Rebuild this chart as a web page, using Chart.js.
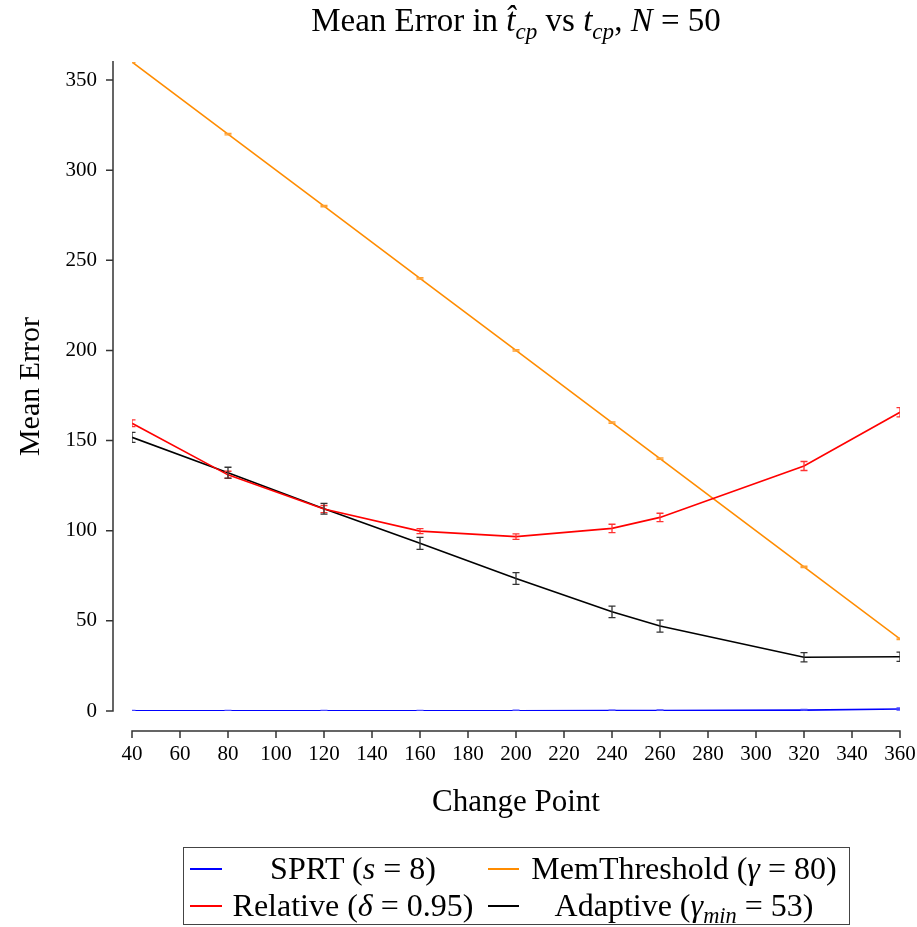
<!DOCTYPE html>
<html>
<head>
<meta charset="utf-8">
<script src="https://cdn.jsdelivr.net/npm/chart.js@4.4.1/dist/chart.umd.min.js"></script>
<style>
  html, body { margin: 0; padding: 0; background: #fff; }
  #wrap { position: relative; width: 917px; height: 927px; font-family: "Liberation Serif", "DejaVu Serif", serif; color: #000; }
  #chart { position: absolute; left: 0; top: 0; }
  #title { position: absolute; left: 216px; width: 600px; top: 1px; text-align: center; font-size: 33px; line-height: 38px; white-space: nowrap; }
  #title sub, #legend sub { font-size: 0.7em; line-height: 0; }
  .eq { margin: 0 0.25em; }
  #legend { position: absolute; left: 183px; top: 847px; width: 665px; height: 76px; border: 1px solid #444; font-size: 32px; }
  .row { display: flex; height: 37px; align-items: center; }
  .row:first-child { margin-top: 2px; }
  .cell { display: flex; align-items: center; }
  .c1 { width: 300px; }
  .c2 { width: 365px; }
  .sw { display: inline-block; width: 32px; height: 2px; margin-left: 6px; }
  .c2 .sw { margin-left: 4px; width: 31px; }
  .tx { flex: 1; text-align: center; white-space: nowrap; }
</style>
</head>
<body>
<div id="wrap">
  <canvas id="chart" width="917" height="927"></canvas>
  <div id="title">Mean Error in <i>t&#770;</i><sub><i>cp</i></sub> vs <i>t</i><sub><i>cp</i></sub>, <i>N</i><span class="eq">=</span>50</div>
  <div id="legend">
    <div class="row">
      <div class="cell c1"><span class="sw" style="background:#0000ff"></span><span class="tx">SPRT (<i>s</i><span class="eq">=</span>8)</span></div>
      <div class="cell c2"><span class="sw" style="background:#ff8c00"></span><span class="tx">MemThreshold (<i>γ</i><span class="eq">=</span>80)</span></div>
    </div>
    <div class="row">
      <div class="cell c1"><span class="sw" style="background:#ff0000"></span><span class="tx">Relative (<i>δ</i><span class="eq">=</span>0.95)</span></div>
      <div class="cell c2"><span class="sw" style="background:#000000"></span><span class="tx">Adaptive (<i>γ</i><sub><i>min</i></sub><span class="eq">=</span>53)</span></div>
    </div>
  </div>
</div>
<script>
const changePoints = [40, 80, 120, 160, 200, 240, 260, 320, 360];

const sprtMean = [0.05, 0.05, 0.05, 0.1, 0.15, 0.2, 0.25, 0.5, 1.1];
const sprtErr = [0.3, 0.3, 0.3, 0.3, 0.3, 0.3, 0.3, 0.4, 0.6];

const memMean = [360, 320, 280, 240, 200, 160, 140, 80, 40];
const memErr = [0.4, 0.4, 0.4, 0.4, 0.4, 0.4, 0.4, 0.4, 0.4];

const relMean = [159.6, 131, 112, 99.8, 96.7, 101.3, 107.4, 135.9, 165.7];
const relErr = [1.9, 2.0, 2.0, 1.4, 1.5, 2.3, 2.3, 2.5, 2.6];

const adaptMean = [151.8, 132.2, 112.2, 93, 73.5, 55, 47.1, 29.8, 30.1];
const adaptErr = [2.8, 3.0, 3.0, 3.3, 3.3, 3.2, 3.3, 2.6, 2.6];

const yTicks = [0, 50, 100, 150, 200, 250, 300, 350];

const serif = '"Liberation Serif", "DejaVu Serif", serif';
Chart.defaults.font.family = serif;
Chart.defaults.color = '#000';

function series(label, means, errs, color, errColor) {
  return {
    label,
    data: changePoints.map((x, i) => ({ x, y: means[i] })),
    errors: errs,
    borderColor: color,
    errColor,
    borderWidth: 1.6,
    pointRadius: 0,
    tension: 0,
    fill: false
  };
}

// error bars with caps, clipped to the plot area
const errorBars = {
  id: 'errorBars',
  afterDatasetsDraw(chart) {
    const { ctx, chartArea, scales: { x, y } } = chart;
    ctx.save();
    ctx.beginPath();
    ctx.rect(chartArea.left, chartArea.top, chartArea.width, chartArea.height);
    ctx.clip();
    chart.data.datasets.forEach((ds) => {
      ctx.strokeStyle = ds.errColor;
      ctx.lineWidth = 1.3;
      ds.data.forEach((p, i) => {
        const e = ds.errors[i];
        const px = x.getPixelForValue(p.x);
        const top = y.getPixelForValue(p.y + e);
        const bot = y.getPixelForValue(p.y - e);
        ctx.beginPath();
        ctx.moveTo(px, top); ctx.lineTo(px, bot);
        ctx.moveTo(px - 3.5, top); ctx.lineTo(px + 3.5, top);
        ctx.moveTo(px - 3.5, bot); ctx.lineTo(px + 3.5, bot);
        ctx.stroke();
      });
    });
    ctx.restore();
  }
};

// detached axis lines, tick marks pointing outward
const axisLines = {
  id: 'axisLines',
  afterDraw(chart) {
    const { ctx, chartArea, scales: { x, y } } = chart;
    ctx.save();
    ctx.strokeStyle = '#333';
    ctx.lineWidth = 1.5;
    const ax = chartArea.left - 19;
    ctx.beginPath();
    ctx.moveTo(ax, chartArea.top - 1);
    ctx.lineTo(ax, y.getPixelForValue(0) + 0.75);
    y.ticks.forEach((t) => {
      const py = y.getPixelForValue(t.value);
      ctx.moveTo(ax, py); ctx.lineTo(ax - 7, py);
    });
    const ay = chartArea.bottom + 20;
    ctx.moveTo(x.getPixelForValue(40) - 0.75, ay);
    ctx.lineTo(x.getPixelForValue(360) + 0.75, ay);
    x.ticks.forEach((t) => {
      const px = x.getPixelForValue(t.value);
      ctx.moveTo(px, ay); ctx.lineTo(px, ay + 7);
    });
    ctx.stroke();
    ctx.restore();
  }
};

new Chart(document.getElementById('chart'), {
  type: 'line',
  data: {
    datasets: [
      series('SPRT', sprtMean, sprtErr, '#0000ff', '#4d4dff'),
      series('Relative', relMean, relErr, '#ff0000', '#ff3333'),
      series('MemThreshold', memMean, memErr, '#ff8c00', '#ffa030'),
      series('Adaptive', adaptMean, adaptErr, '#000000', '#333333')
    ]
  },
  options: {
    responsive: false,
    animation: false,
    layout: { padding: { left: 0, right: 17, top: 62, bottom: 0 } },
    plugins: {
      legend: { display: false },
      title: { display: false },
      tooltip: { enabled: false }
    },
    scales: {
      x: {
        type: 'linear',
        min: 40,
        max: 360,
        grid: { display: false, drawTicks: false },
        border: { display: false },
        ticks: { stepSize: 20, autoSkip: false, maxRotation: 0, padding: 31, font: { size: 21 } },
        title: { display: true, text: 'Change Point', font: { size: 31 }, padding: { top: 0, bottom: 106 } },
        afterFit(scale) {
          scale.height = 216;
          scale.paddingLeft = 0;
          scale.paddingRight = 0;
        }
      },
      y: {
        type: 'linear',
        min: 0,
        max: 360,
        grid: { display: false, drawTicks: false },
        border: { display: false },
        ticks: { padding: 35, font: { size: 21 } },
        afterBuildTicks(scale) { scale.ticks = yTicks.map((v) => ({ value: v })); },
        title: { display: true, text: 'Mean Error', font: { size: 30 }, padding: { top: 13, bottom: 0 } },
        afterFit(scale) {
          scale.width = 132;
          scale.paddingTop = 0;
          scale.paddingBottom = 0;
        }
      }
    }
  },
  plugins: [errorBars, axisLines]
});
</script>
</body>
</html>
